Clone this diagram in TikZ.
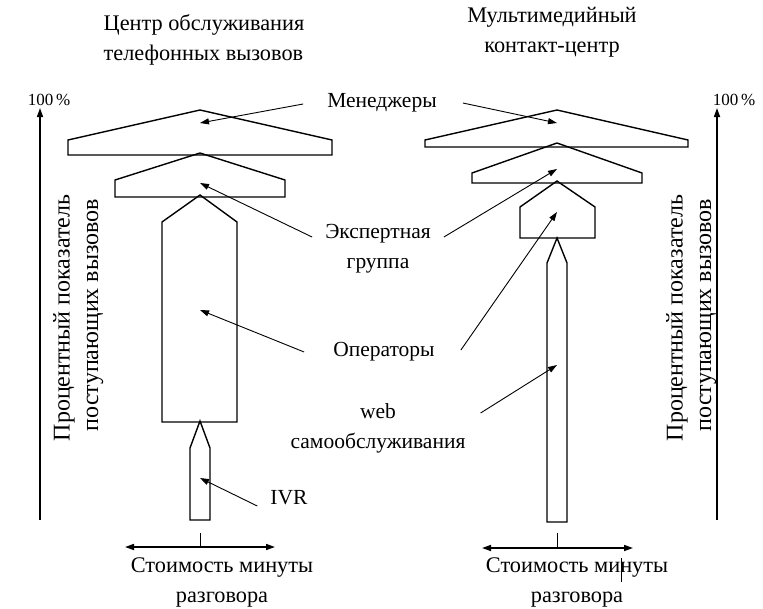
\documentclass[tikz,border=0pt]{standalone}
\usepackage{fontspec}
\setmainfont{Liberation Serif}
\usetikzlibrary{arrows.meta,positioning}

\begin{document}
\begin{tikzpicture}[x=1pt,y=-1pt,
  every node/.style={font=\fontsize{21.5}{30}\selectfont,inner sep=0pt},
  tier/.style={draw,line width=1.4pt,line join=miter},
  ptr/.style={line width=0.9pt,-{Triangle[length=9pt,width=6pt]}},
  axis/.style={line width=1.6pt},
  big/.style={font=\fontsize{22.3}{30}\selectfont},
  vlab/.style={rotate=90,font=\fontsize{24}{26}\selectfont}]
\useasboundingbox (0,0) rectangle (763,608);

% titles
\node[big,align=left] (ttlL) at (204,40) {Центр обслуживания\\телефонных вызовов};
\node[big,align=center] (ttlR) at (552,32) {Мультимедийный\\контакт-центр};

% left pyramid
\draw[tier] (68,155) -- (68,140) -- (200,110) -- (332,140) -- (332,155) -- cycle;
\draw[tier] (115,197) -- (115,180) -- (200,153) -- (285,180) -- (285,197) -- cycle;
\draw[tier] (162,422) -- (162,222) -- (200,195) -- (237,222) -- (237,422) -- cycle;
\draw[tier] (190,520) -- (190,448) -- (200,421) -- (210,448) -- (210,520) -- cycle;
\coordinate (mgrL) at (200,123);
\coordinate (expL) at (200,183);
\coordinate (opsL) at (200,310);
\coordinate (ivrL) at (200,478);

% right pyramid
\draw[tier] (425,147) -- (425,140) -- (557,110) -- (688,140) -- (688,147) -- cycle;
\draw[tier] (472,183) -- (472,173) -- (557,143) -- (642,173) -- (642,183) -- cycle;
\draw[tier] (520,238) -- (520,207) -- (557,181) -- (595,207) -- (595,238) -- cycle;
\draw[tier] (547,522) -- (547,263) -- (557,238) -- (567,263) -- (567,522) -- cycle;
\coordinate (mgrR) at (557,123);
\coordinate (expR) at (557,169);
\coordinate (opsR) at (557,212);
\coordinate (webR) at (557,365);

% labels in the middle
\node (men) at (382,103) {Менеджеры};
\node[align=center] (exp) at (378,249) {Экспертная\\группа};
\node (ops) at (384,352) {Операторы};
\node[align=center] (web) at (378,428) {web\\самообслуживания};
\node (ivr) at (289,498) {IVR};

\draw[ptr] ([shift={(-24,1)}]men.west) -- (mgrL);
\draw[ptr] ([shift={(26,0)}]men.east) -- (mgrR);
\draw[ptr] ([shift={(-13,-12)}]exp.west) -- (expL);
\draw[ptr] ([shift={(13,-12)}]exp.east) -- (expR);
\draw[ptr] ([shift={(-29,0)}]ops.west) -- (opsL);
\draw[ptr] ([shift={(26,-2)}]ops.east) -- (opsR);
\draw[ptr] ([shift={(15,-15)}]web.east) -- (webR);
\draw[ptr] ([shift={(-13,8)}]ivr.west) -- (ivrL);

% vertical axes
\draw[axis,-{Triangle[length=9pt,width=6pt]}] (40,520) -- (40,108);
\node[font=\fontsize{17}{18}\selectfont] (pctL) at (49,100) {100\,\%};
\node[vlab] (yL1) at (64,318) {Процентный показатель};
\node[vlab] (yL2) at (95,315) {поступающих вызовов};
\draw[axis,-{Triangle[length=9pt,width=6pt]}] (717,520) -- (717,108);
\node[font=\fontsize{17}{18}\selectfont] (pctR) at (734,100) {100\,\%};
\node[vlab] (yR1) at (677,318) {Процентный показатель};
\node[vlab] (yR2) at (708,315) {поступающих вызовов};

% cost axes
\draw[axis,{Triangle[length=9pt,width=6pt]}-{Triangle[length=9pt,width=6pt]}] (125,547) -- (275,547);
\draw[line width=0.9pt] (200,533) -- (200,547);
\node[big,align=center] (costL) at (222,582) {Стоимость минуты\\разговора};
\draw[axis,{Triangle[length=9pt,width=6pt]}-{Triangle[length=9pt,width=6pt]}] (482,548) -- (633,548);
\draw[line width=0.9pt] (557,533) -- (557,548);
\node[big,align=center] (costR) at (577,582) {Стоимость минуты\\разговора};
\draw[line width=0.8pt] (621,558) -- (621,582);
\end{tikzpicture}
\end{document}
